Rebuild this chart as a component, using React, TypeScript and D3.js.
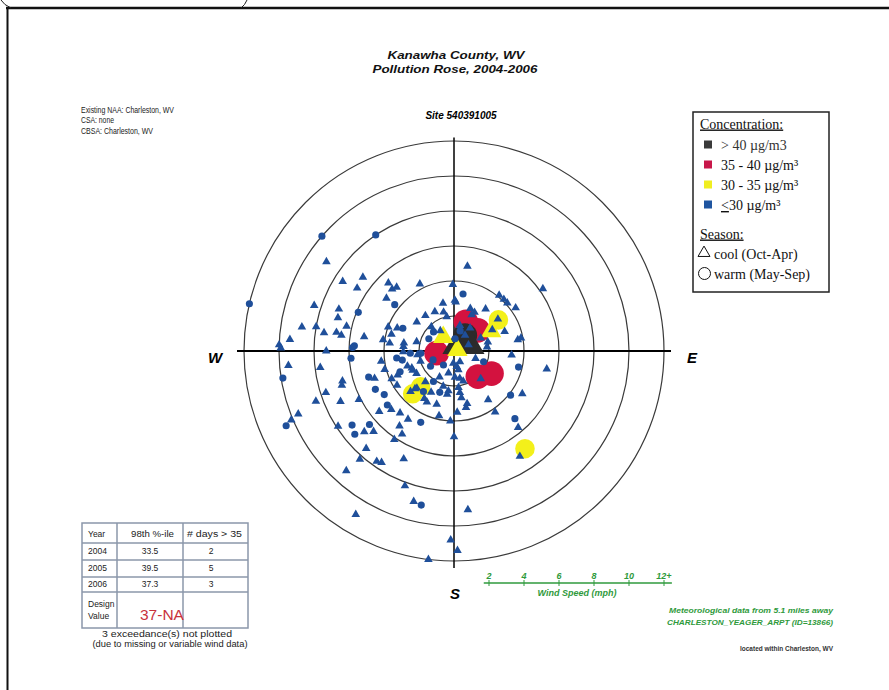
import React from 'react';
import * as d3 from 'd3';

// [wind direction (deg from N), wind speed (mph)]
const lowCool = [
  [305, 8.9], [309, 6.7], [302, 7.5], [303, 6.6], [316, 5.4], [318, 4.9], [315, 5.0], [333, 4.3],
  [308, 4.9], [288, 8.4], [290, 7.0], [286, 6.9], [279, 8.8], [280, 8.0], [278, 7.5], [279, 6.8],
  [278, 6.5], [283, 6.3], [279, 5.2], [290, 4.0], [292, 3.5], [285, 3.7], [274, 9.4], [272, 10.0],
  [279, 4.1], [279, 2.9], [321, 2.6], [308, 2.7], [334, 2.5], [347, 2.8], [359, 3.8], [1, 2.9],
  [317, 1.9], [326, 1.4], [348, 2.0], [9, 4.9], [55, 6.2], [39, 4.1], [44, 4.1], [48, 4.1],
  [37, 3.0], [21, 2.6], [28, 2.5], [2, 2.8], [80, 3.7], [79, 3.9], [75, 2.0], [61, 2.5],
  [265, 9.5], [263, 7.7], [255, 6.6], [253, 6.7], [252, 7.7], [250, 8.4], [246, 7.1], [243, 6.1],
  [248, 9.6], [247, 10.1], [237, 7.9], [228, 6.9], [225, 6.5], [222, 7.5], [221, 8.2], [215, 7.7],
  [213, 7.6], [222, 9.2], [205, 6.8], [214, 6.1], [212, 5.6], [216, 5.3], [200, 8.2], [195, 8.9],
  [211, 10.9], [181, 10.8], [187, 12.0], [251, 4.8], [262, 4.2], [255, 4.1], [246, 3.9], [239, 3.8],
  [252, 2.8], [248, 2.6], [239, 2.5], [231, 5.5], [227, 4.9], [221, 4.7], [214, 4.7], [226, 3.1],
  [212, 3.2], [198, 3.2], [193, 3.8], [183, 4.0], [180, 4.9], [209, 1.7], [197, 2.1], [183, 0.7],
  [223, 2.4], [209, 2.7], [189, 2.5], [270, 7.3], [271, 9.9], [269, 2.9], [264, 2.1], [101, 5.4],
  [122, 4.6], [145, 3.4], [146, 4.2], [140, 5.7], [148, 7.1], [175, 9.1], [179, 11.4], [168, 3.3],
  [177, 3.5], [171, 2.7], [172, 2.4], [178, 1.5], [163, 1.8], [136, 2.2], [151, 0.7], [345, 2.3],
  [284, 2.2], [275, 2.9], [253, 2.0], [194, 1.3], [170, 0.9], [168, 1.6], [173, 2.1], [166, 3.1],
  [188, 2.3], [208, 3.3], [247, 3.5], [64, 1.7], [83, 1.9], [109, 1.3], [35, 1.1], [35, 1.6],
  [13, 1.5], [67, 0.9], [69, 3.1], [55, 4.3], [277, 3.7], [245, 2.6], [167, 1.1], [26, 2.3],
  [94, 3.3], [54, 3.1], [227, 3.4], [225, 3.0],
];
const lowWarm = [
  [311, 10.0], [326, 8.0], [283, 12.0], [308, 4.3], [273, 5.7], [261, 9.9], [246, 10.5], [234, 7.2],
  [230, 7.4], [229, 6.4], [192, 9.0], [253, 5.1], [244, 5.0], [238, 4.7], [205, 4.5], [272, 5.8],
  [104, 3.8], [128, 4.1], [138, 5.2], [294, 3.2], [313, 1.6], [296, 1.6], [267, 2.5], [266, 1.9],
  [263, 3.3], [237, 1.6], [217, 1.0], [214, 2.1], [217, 2.9], [249, 3.3], [247, 1.3], [199, 2.5],
  [110, 1.8], [266, 5.9], [260, 3.0], [292, 5.9], [9, 3.3], [5, 0.7], [17, 1.2], [231, 4.9],
];
const midCool = [[62, 2.4], [322, 1.0]];
const midWarm = [[55, 3.1], [224, 3.4], [223, 2.8], [144, 6.9]];
const highWarm = [[22, 1.8], [49, 1.8], [263, 1.0], [137, 2.0], [121, 2.5]];
const topCool = [[34, 0.41], [68, 0.92]];
const topWarm = [[35, 1.1]];
const midCoolFront = [[76, 0.2]];

const ringSpeeds = [2, 4, 6, 8, 10, 12];
const speedLabels = ['2', '4', '6', '8', '10', '12+'];

const tableRows = [
  ['2004', '33.5', '2'],
  ['2005', '39.5', '5'],
  ['2006', '37.3', '3'],
];
const legendItems = [
  { label: '> 40 \u00b5g/m3', color: '#3a3a3a' },
  { label: '35 - 40 \u00b5g/m\u00b3', color: '#c8174a' },
  { label: '30 - 35 \u00b5g/m\u00b3', color: '#f0ee20' },
  { label: '30 \u00b5g/m\u00b3', color: '#1f55a0' },
];

const BLUE = '#1f4f9a';
const YELLOW = '#f3f01a';
const RED = '#d3123f';
const DARK = '#2b2b2b';
const GREEN = '#2f9a3c';

const cx = 454;
const cy = 351;
const r = d3.scaleLinear().domain([0, 12]).range([0, 210]);

const pos = (d: number[]) => {
  const a = (d[0] * Math.PI) / 180;
  return [cx + r(d[1]) * Math.sin(a), cy - r(d[1]) * Math.cos(a)];
};

const Marks = ({ data, shape, size, fill }: any) => {
  const path = d3.symbol().type(shape === 'tri' ? d3.symbolTriangle : d3.symbolCircle).size(size)() as string;
  return (
    <g>
      {data.map((d: number[], i: number) => {
        const [x, y] = pos(d);
        return <path key={i} d={path} transform={`translate(${x},${y})`} fill={fill} />;
      })}
    </g>
  );
};

export default function App() {
  const sans = 'Liberation Sans, Arial, sans-serif';
  const serif = 'Liberation Serif, Times New Roman, serif';
  const tblX = [82, 117, 183, 248];
  const tblY = [523, 543, 560, 577, 592, 628];
  return (
    <svg width={889} height={690} style={{ position: 'absolute', left: 0, top: 0, background: '#fff' }}>
      {/* scanned frame */}
      <line x1={6} x2={889} y1={8} y2={8} stroke="#111" strokeWidth={2.5} />
      <line x1={7.5} x2={7.5} y1={8} y2={690} stroke="#111" strokeWidth={2} />
      <path d="M1,0 Q4,5 11,8" fill="none" stroke="#222" strokeWidth={1} />
      <path d="M247,0 Q245,5 241,8" fill="none" stroke="#222" strokeWidth={1} />

      {/* titles */}
      <g fontFamily={sans} fontStyle="italic" fontSize={11.5} textAnchor="middle" fill="#111" fontWeight="bold">
        <text x={456} y={59} textLength={137} lengthAdjust="spacingAndGlyphs">Kanawha County, WV</text>
        <text x={455} y={72.5} textLength={165} lengthAdjust="spacingAndGlyphs">Pollution Rose, 2004-2006</text>
      </g>
      <text x={461} y={119} fontFamily={sans} fontStyle="italic" fontWeight="bold" fontSize={10} textAnchor="middle">Site 540391005</text>
      <g fontFamily={sans} fontSize={9} fill="#222">
        <text x={81} y={112.5} textLength={93} lengthAdjust="spacingAndGlyphs">Existing NAA: Charleston, WV</text>
        <text x={81} y={123} textLength={33} lengthAdjust="spacingAndGlyphs">CSA: none</text>
        <text x={81} y={133.5} textLength={72} lengthAdjust="spacingAndGlyphs">CBSA: Charleston, WV</text>
      </g>

      {/* rings and axes */}
      {ringSpeeds.map((s) => (
        <circle key={s} cx={cx} cy={cy} r={r(s)} fill="none" stroke="#3a3a3a" strokeWidth={1.2} />
      ))}
      <line x1={cx - r(12.4)} x2={cx + r(12.4)} y1={cy} y2={cy} stroke="#000" strokeWidth={2.2} />
      <line x1={cx} x2={cx} y1={cy - r(12.2)} y2={cy + r(12.4)} stroke="#000" strokeWidth={1.5} />
      <g fontFamily={sans} fontStyle="italic" fontWeight="bold" fontSize={15} textAnchor="middle">
        <text x={215} y={363}>W</text>
        <text x={692} y={363}>E</text>
        <text x={455} y={599}>S</text>
      </g>

      {/* points */}
      <Marks data={highWarm} shape="circ" size={480} fill={RED} />
      <Marks data={topWarm} shape="circ" size={460} fill={DARK} />
      <Marks data={topCool} shape="tri" size={420} fill={DARK} />
      <Marks data={midWarm} shape="circ" size={300} fill={YELLOW} />
      <Marks data={midCool} shape="tri" size={180} fill={YELLOW} />
      <Marks data={midCoolFront} shape="tri" size={180} fill={YELLOW} />
      <Marks data={lowWarm} shape="circ" size={40} fill={BLUE} />
      <Marks data={lowCool} shape="tri" size={32} fill={BLUE} />

      {/* legend */}
      <rect x={693} y={112} width={136} height={180} fill="#fff" stroke="#222" strokeWidth={1.5} />
      <g fontFamily={serif} fontSize={14} fill="#111">
        <text x={700} y={128.5} textDecoration="underline">Concentration:</text>
        {legendItems.map((it, i) => (
          <g key={i}>
            <rect x={704} y={140.5 + i * 20} width={8} height={8} fill={it.color} />
            <text x={721} y={150 + i * 20} fill={i === 0 ? '#333' : '#111'}>
              {i === 3 ? <tspan textDecoration="underline">&lt;</tspan> : null}
              {it.label}
            </text>
          </g>
        ))}
        <text x={700} y={238.5} textDecoration="underline">Season:</text>
        <path d={d3.symbol().type(d3.symbolTriangle).size(62)() as string} transform="translate(704,253)" fill="none" stroke="#111" strokeWidth={1} />
        <text x={714} y={258.5}>cool (Oct-Apr)</text>
        <circle cx={704.5} cy={273.5} r={6} fill="none" stroke="#111" strokeWidth={1} />
        <text x={714} y={278.5}>warm (May-Sep)</text>
      </g>

      {/* table */}
      <g stroke="#8b97aa" strokeWidth={1.5} fill="none">
        <rect x={tblX[0]} y={tblY[0]} width={tblX[3] - tblX[0]} height={tblY[5] - tblY[0]} />
        {tblY.slice(1, 5).map((y) => <line key={y} x1={tblX[0]} x2={tblX[3]} y1={y} y2={y} />)}
        {tblX.slice(1, 3).map((x) => <line key={x} x1={x} x2={x} y1={tblY[0]} y2={tblY[5]} />)}
      </g>
      <g fontFamily={sans} fontSize={8.5} fill="#222">
        <text x={88} y={537}>Year</text>
        <text x={131} y={537} textLength={43} lengthAdjust="spacingAndGlyphs">98th %-ile</text>
        <text x={187} y={537} textLength={55} lengthAdjust="spacingAndGlyphs"># days &gt; 35</text>
        {tableRows.map((row, i) => (
          <g key={row[0]}>
            <text x={88} y={554 + i * 16.5}>{row[0]}</text>
            <text x={150} y={554 + i * 16.5} textAnchor="middle">{row[1]}</text>
            <text x={211} y={554 + i * 16.5} textAnchor="middle">{row[2]}</text>
          </g>
        ))}
        <text x={88} y={607}>Design</text>
        <text x={88} y={619}>Value</text>
        <text x={167} y={637} textAnchor="middle" textLength={130} lengthAdjust="spacingAndGlyphs">3 exceedance(s) not plotted</text>
        <text x={170} y={647} textAnchor="middle" textLength={155} lengthAdjust="spacingAndGlyphs">(due to missing or variable wind data)</text>
      </g>
      <text x={140} y={620} fontFamily={sans} fontSize={15.5} fill="#c8323c">37-NA</text>

      {/* wind speed scale */}
      <g stroke={GREEN} strokeWidth={1.5}>
        <line x1={cx + r(1.7)} x2={cx + r(12.45)} y1={583} y2={583} />
        {ringSpeeds.map((s) => (
          <line key={s} x1={cx + r(s)} x2={cx + r(s)} y1={580} y2={586} strokeWidth={1} />
        ))}
      </g>
      <g fontFamily={sans} fontStyle="italic" fontWeight="bold" fontSize={9} fill={GREEN} textAnchor="middle">
        {ringSpeeds.map((s, i) => (
          <text key={s} x={cx + r(s)} y={579}>{speedLabels[i]}</text>
        ))}
        <text x={577} y={596}>Wind Speed (mph)</text>
      </g>
      <g fontFamily={sans} fontStyle="italic" fontWeight="bold" fontSize={8} fill={GREEN} textAnchor="end">
        <text x={833} y={612.5} textLength={164} lengthAdjust="spacingAndGlyphs">Meteorological data from 5.1 miles away</text>
        <text x={833} y={625} textLength={166} lengthAdjust="spacingAndGlyphs">CHARLESTON_YEAGER_ARPT (ID=13866)</text>
      </g>
      <text x={833} y={651} fontFamily={sans} fontWeight="bold" fontSize={6.5} fill="#333" textAnchor="end" textLength={93} lengthAdjust="spacingAndGlyphs">located within Charleston, WV</text>
    </svg>
  );
}
